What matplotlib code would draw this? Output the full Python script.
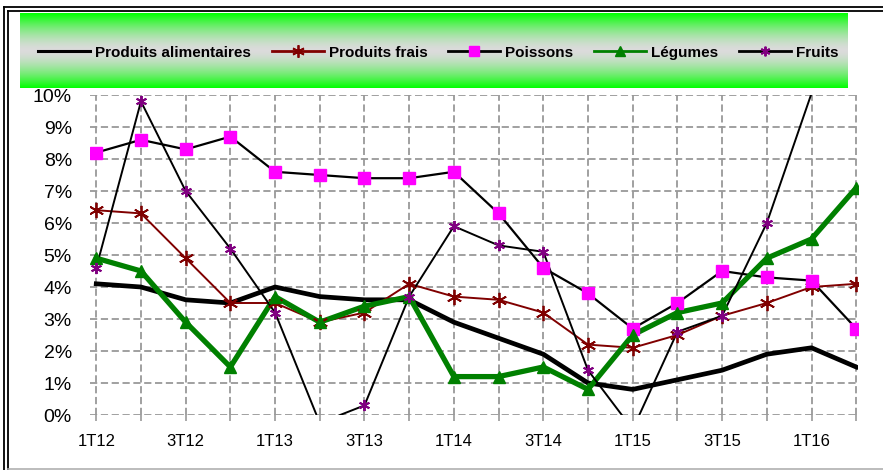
import numpy as np
import matplotlib
matplotlib.use("Agg")
from matplotlib import pyplot as plt
from matplotlib.lines import Line2D

plt.rcParams['font.family'] = ['Liberation Sans', 'DejaVu Sans']

quarters = ['1T12', '2T12', '3T12', '4T12', '1T13', '2T13', '3T13', '4T13', '1T14',
            '2T14', '3T14', '4T14', '1T15', '2T15', '3T15', '4T15', '1T16', '2T16']

alimentaires = [4.1, 4.0, 3.6, 3.5, 4.0, 3.7, 3.6, 3.6, 2.9, 2.4, 1.9, 1.0, 0.8, 1.1, 1.4, 1.9, 2.1, 1.5]
frais = [6.4, 6.3, 4.9, 3.5, 3.5, 2.9, 3.2, 4.1, 3.7, 3.6, 3.2, 2.2, 2.1, 2.5, 3.1, 3.5, 4.0, 4.1]
poissons = [8.2, 8.6, 8.3, 8.7, 7.6, 7.5, 7.4, 7.4, 7.6, 6.3, 4.6, 3.8, 2.7, 3.5, 4.5, 4.3, 4.2, 2.7]
legumes = [4.9, 4.5, 2.9, 1.5, 3.7, 2.9, 3.4, 3.7, 1.2, 1.2, 1.5, 0.8, 2.5, 3.2, 3.5, 4.9, 5.5, 7.1]
fruits = [4.6, 9.8, 7.0, 5.2, 3.2, -0.25, 0.3, 3.7, 5.9, 5.3, 5.1, 1.4, -0.45, 2.6, 3.1, 6.0, 10.05, 12.0]

W, H = 883, 470
fig = plt.figure(figsize=(W / 100, H / 100), dpi=100)

# double frame round the chart (cut at right and bottom like the original)
for x0, y0 in [(4, 7), (8, 11)]:
    fig.add_artist(Line2D([x0 / W, 1], [1 - y0 / H, 1 - y0 / H], transform=fig.transFigure, color='black', lw=1.3))
    fig.add_artist(Line2D([x0 / W, x0 / W], [1 - y0 / H, 0], transform=fig.transFigure, color='black', lw=1.3))
fig.add_artist(Line2D([8 / W, 1], [1.5 / H, 1.5 / H], transform=fig.transFigure, color='#b0b0b0', lw=1.2))

# plot area
ax = fig.add_axes([90 / W, (H - 415) / H, (858 - 90) / W, (415 - 95) / H])
x = np.arange(len(quarters))


def plot_series(vals, color, lw, marker=None, mfc=None, mec=None, ms=8, mew=1.0):
    vals = np.array(vals)
    ax.plot(x, vals, color=color, lw=lw, solid_joinstyle='round', zorder=3)
    if marker is not None:
        # like the original, no marker for points outside the 0-10% range
        keep = (vals >= 0) & (vals <= 10)
        ax.plot(x[keep], vals[keep], ls='none', marker=marker, ms=ms, mfc=mfc, mec=mec,
                mew=mew, zorder=4)


star = (6, 2, 0)
plot_series(alimentaires, 'black', 3.4)
plot_series(frais, '#800000', 1.4, star, '#800000', '#800000', ms=11, mew=1.3)
plot_series(poissons, 'black', 1.6, 's', '#ff00ff', '#ff00ff', ms=8.5)
plot_series(legumes, '#008000', 3.8, '^', '#008000', '#008000', ms=8)
plot_series(fruits, 'black', 1.4, star, '#800080', '#800080', ms=8, mew=1.4)

ax.set_xlim(-0.14, 17.04)
ax.set_ylim(0, 10)
ax.set_yticks(range(0, 11))
ax.set_yticklabels([f'{v}%' for v in range(0, 11)], fontsize=14)
ax.set_xticks(x)
ax.set_xticklabels([q if i % 2 == 0 else '' for i, q in enumerate(quarters)], fontsize=12)
ax.tick_params(axis='y', length=0, pad=13)
ax.tick_params(axis='x', length=4, width=1.2, color='#999999', pad=10)
ax.grid(True, color='#999999', ls=(0, (4, 2)), lw=1.3)
ax.set_axisbelow(True)
for s in ax.spines.values():
    s.set_visible(False)

# legend band with green / grey gradient
lax = fig.add_axes([20 / W, (H - 88) / H, (848 - 20) / W, (88 - 13) / H])
t = np.linspace(0, 1, 200)
k = 1 - np.abs(2 * t - 1) ** 1.6
top = np.array([0.0, 1.0, 0.0])
mid = np.array([0.86, 0.86, 0.86])
grad = top[None, :] + (mid - top)[None, :] * k[:, None]
lax.imshow(grad[:, None, :], aspect='auto', extent=(0, 1, 0, 1))
lax.set_axis_off()

handles = [
    Line2D([], [], color='black', lw=2.2),
    Line2D([], [], color='#800000', lw=2, marker=star, ms=9, mec='#800000', mew=1.3),
    Line2D([], [], color='black', lw=2, marker='s', ms=7, mfc='#ff00ff', mec='#ff00ff'),
    Line2D([], [], color='#008000', lw=2, marker='^', ms=7, mfc='#008000', mec='#008000'),
    Line2D([], [], color='black', lw=2, marker=star, ms=7, mec='#800080', mew=1.4),
]
labels = ['Produits alimentaires', 'Produits frais', 'Poissons', 'Légumes', 'Fruits']
lax.legend(handles, labels, loc='center', ncol=5, frameon=False,
           prop={'weight': 'bold', 'size': 11}, handlelength=3.4,
           handletextpad=0.33, columnspacing=1.35, bbox_to_anchor=(0.505, 0.47))

fig.savefig('out.png', dpi=100)
